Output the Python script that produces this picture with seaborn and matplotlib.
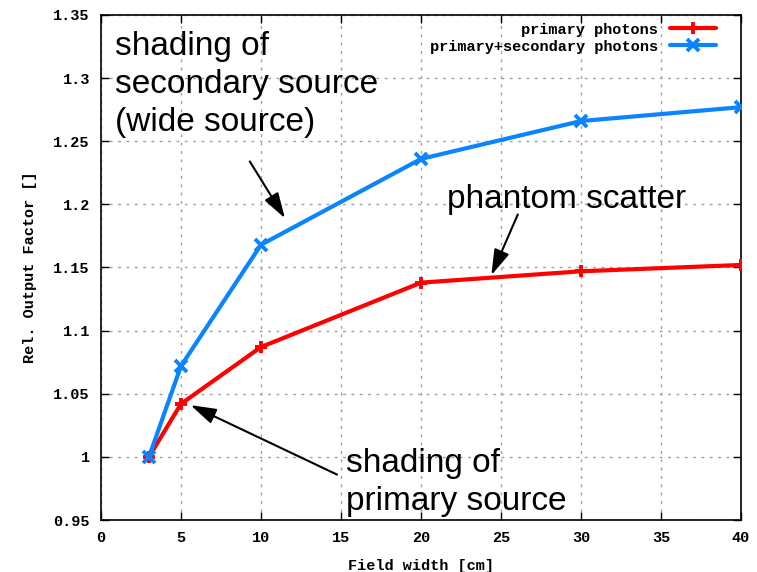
import matplotlib
matplotlib.use("Agg")
import matplotlib.pyplot as plt
import seaborn as sns
import pandas as pd

# Relative output factor vs. field width
field_width = [3, 5, 10, 20, 30, 40]
primary = [1.000, 1.042, 1.087, 1.138, 1.147, 1.152]
primary_secondary = [1.000, 1.072, 1.168, 1.236, 1.266, 1.277]
series_names = ["primary photons", "primary+secondary photons"]
series_colors = ["#ff0000", "#0a84ff"]
series_markers = ["+", "x"]
x_ticks = [0, 5, 10, 15, 20, 25, 30, 35, 40]
y_ticks = [0.95, 1.0, 1.05, 1.1, 1.15, 1.2, 1.25, 1.3, 1.35]
y_tick_labels = ["0.95", "1", "1.05", "1.1", "1.15", "1.2", "1.25", "1.3", "1.35"]

sns.set_theme(style="white")
plt.rcParams["font.family"] = ["Liberation Sans", "DejaVu Sans"]
plt.rcParams.update({"text.color": "black", "axes.labelcolor": "black",
                     "xtick.color": "black", "ytick.color": "black"})

mono = {"family": ["Liberation Mono", "DejaVu Sans Mono"], "weight": "bold"}

fig = plt.figure(figsize=(7.57, 5.72), dpi=100)
ax = fig.add_axes([0.1334, 0.0909, 0.8455, 0.8829])

for name, values, color, marker in zip(series_names, [primary, primary_secondary],
                                       series_colors, series_markers):
    frame = pd.DataFrame({"width": field_width, "factor": values})
    sns.lineplot(data=frame, x="width", y="factor", color=color, marker=marker,
                 markersize=8.5, markeredgewidth=2.8, markeredgecolor=color,
                 linewidth=3, label=name, ax=ax, zorder=3)

ax.set_xlim(0, 40)
ax.set_ylim(0.95, 1.35)
ax.set_xticks(x_ticks)
ax.set_xticklabels([str(t) for t in x_ticks], fontdict=mono, fontsize=11)
ax.set_yticks(y_ticks)
ax.set_yticklabels(y_tick_labels, fontdict=mono, fontsize=11)
ax.tick_params(direction="in", length=6, width=1, color="black",
               top=True, right=True, bottom=True, left=True, pad=8)

ax.grid(True, color="#a0a0a0", linestyle=(0, (2, 4)), linewidth=1)
for s in ax.spines.values():
    s.set_color("black")
    s.set_linewidth(1.2)

ax.set_xlabel("Field width [cm]", fontdict=mono, fontsize=11, labelpad=10)
ax.set_ylabel("Rel. Output Factor []", fontdict=mono, fontsize=11, labelpad=12)

leg = ax.legend(loc="upper right", frameon=False, markerfirst=False,
                prop={"family": "Liberation Mono", "weight": "bold", "size": 11},
                handlelength=3.0, borderaxespad=0.2, labelspacing=0.2,
                bbox_to_anchor=(0.975, 1.003))
for txt in leg.get_texts():
    txt.set_ha("right")

arrow = dict(arrowstyle="-|>,head_length=1.3,head_width=0.4", color="black", lw=1.5,
             shrinkA=0, shrinkB=0)
ann_size = 24

ax.annotate("", xy=(11.5, 1.189), xytext=(9.3, 1.234), arrowprops=arrow)
ax.text(0.85, 1.3375, "shading of\nsecondary source\n(wide source)", fontsize=ann_size,
        va="top", ha="left", linespacing=1.3)

ax.annotate("", xy=(24.4, 1.144), xytext=(26.05, 1.192), arrowprops=arrow)
ax.text(29.1, 1.2035, "phantom scatter", fontsize=ann_size, va="center", ha="center")

ax.annotate("", xy=(5.6, 1.041), xytext=(14.75, 0.986), arrowprops=arrow)
ax.text(15.3, 0.9795, "shading of\nprimary source", fontsize=ann_size,
        va="center", ha="left", linespacing=1.3)

fig.savefig("out.png", dpi=100)
